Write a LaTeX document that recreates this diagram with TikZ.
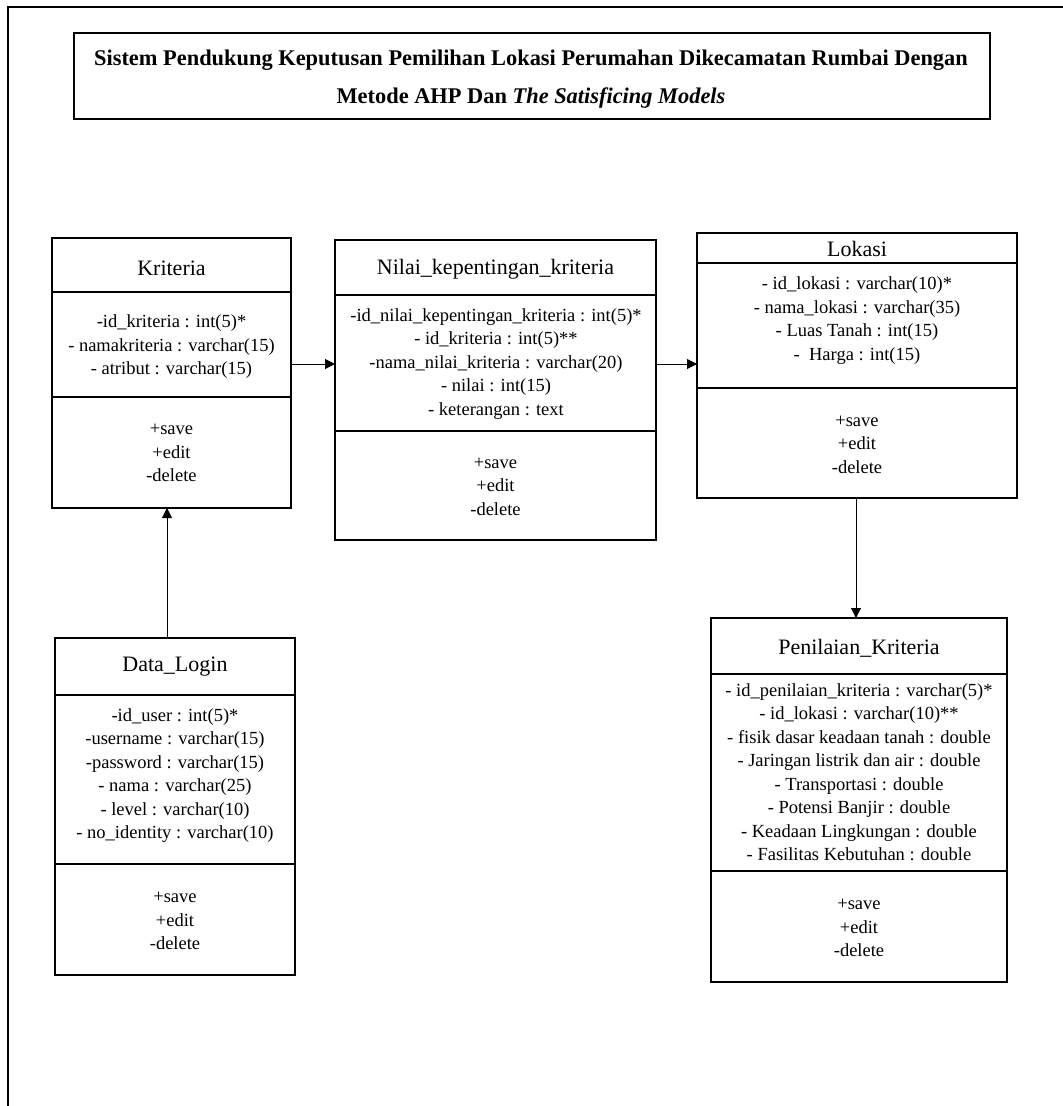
\documentclass[tikz,border=0pt]{standalone}
\usepackage{fontspec}
\setmainfont{Liberation Serif}
\usetikzlibrary{arrows.meta}
\tikzset{
  classbox/.style={draw, line width=1.1pt, anchor=north west, inner sep=0pt, outer sep=0pt},
  divider/.style={line width=1.1pt},
  classtitle/.style={font=\fontsize{22}{26}\selectfont, inner sep=0pt},
  members/.style={font=\fontsize{18.5}{23.5}\selectfont, align=center, inner sep=0pt},
  assoc/.style={line width=1pt, -{Triangle[length=10pt,width=10pt]}},
  frame/.style={line width=1.5pt},
}
\begin{document}
\begin{tikzpicture}[x=1pt, y=-1pt]
\useasboundingbox (0,0) rectangle (1063,1106);

% page frame (top and left edges)
\draw[frame] (1063,7) -- (8,7) -- (8,1106);

% heading
\node[draw, line width=1.1pt, minimum width=916pt, minimum height=86pt, inner sep=0pt] (title) at (532,76) {};
\node[align=center, inner sep=0pt, font=\bfseries\fontsize{22.4}{38}\selectfont] (title-text) at (531,79)
  {Sistem Pendukung Keputusan Pemilihan Lokasi Perumahan Dikecamatan Rumbai Dengan\\
   Metode AHP Dan \textit{The Satisficing Models}};

% class Kriteria
\node[classbox, minimum width=239pt, minimum height=270pt] (kri) at (52,238) {};
\draw[divider] (kri.west |- 0,292) -- (kri.east |- 0,292);
\draw[divider] (kri.west |- 0,397) -- (kri.east |- 0,397);
\node[classtitle] (kri-t) at (171.5,268) {Kriteria};
\node[members] (kri-a) at (171.5,347) {-id\_kriteria : int(5)*\\- namakriteria : varchar(15)\\- atribut : varchar(15)};
\node[members] (kri-m) at (171.5,453) {+save\\+edit\\-delete};

% class Nilai_kepentingan_kriteria
\node[classbox, minimum width=321pt, minimum height=300pt] (nil) at (335,240) {};
\draw[divider] (nil.west |- 0,295) -- (nil.east |- 0,295);
\draw[divider] (nil.west |- 0,431) -- (nil.east |- 0,431);
\node[classtitle] (nil-t) at (495.5,269) {Nilai\_kepentingan\_kriteria};
\node[members] (nil-a) at (496,364) {-id\_nilai\_kepentingan\_kriteria : int(5)*\\- id\_kriteria : int(5)**\\-nama\_nilai\_kriteria : varchar(20)\\- nilai : int(15)\\- keterangan : text};
\node[members] (nil-m) at (495.5,486.5) {+save\\+edit\\-delete};

% class Lokasi
\node[classbox, minimum width=320pt, minimum height=265pt] (lok) at (697,233) {};
\draw[divider] (lok.west |- 0,263) -- (lok.east |- 0,263);
\draw[divider] (lok.west |- 0,388) -- (lok.east |- 0,388);
\node[classtitle] (lok-t) at (857,249) {Lokasi};
\node[members] (lok-a) at (857,320.5) {- id\_lokasi : varchar(10)*\\- nama\_lokasi : varchar(35)\\- Luas Tanah : int(15)\\-\ \ Harga : int(15)};
\node[members] (lok-m) at (857,444.5) {+save\\+edit\\-delete};

% class Data_Login
\node[classbox, minimum width=240pt, minimum height=337pt] (dl) at (55,638) {};
\draw[divider] (dl.west |- 0,695) -- (dl.east |- 0,695);
\draw[divider] (dl.west |- 0,864) -- (dl.east |- 0,864);
\node[classtitle] (dl-t) at (175,667) {Data\_Login};
\node[members] (dl-a) at (175,775.5) {-id\_user : int(5)*\\-username : varchar(15)\\-password : varchar(15)\\- nama : varchar(25)\\- level : varchar(10)\\- no\_identity : varchar(10)};
\node[members] (dl-m) at (175,921) {+save\\+edit\\-delete};

% class Penilaian_Kriteria
\node[classbox, minimum width=296pt, minimum height=364pt] (pen) at (711,618) {};
\draw[divider] (pen.west |- 0,674) -- (pen.east |- 0,674);
\draw[divider] (pen.west |- 0,871) -- (pen.east |- 0,871);
\node[classtitle] (pen-t) at (859,648) {Penilaian\_Kriteria};
\node[members] (pen-a) at (859,772) {- id\_penilaian\_kriteria : varchar(5)*\\- id\_lokasi : varchar(10)**\\- fisik dasar keadaan tanah : double\\- Jaringan listrik dan air : double\\- Transportasi : double\\- Potensi Banjir : double\\- Keadaan Lingkungan : double\\- Fasilitas Kebutuhan : double};
\node[members] (pen-m) at (859,928) {+save\\+edit\\-delete};

% associations
\draw[assoc] (kri.east |- 0,364) -- (nil.west |- 0,364);
\draw[assoc] (nil.east |- 0,364) -- (lok.west |- 0,364);
\draw[assoc] (dl.north -| 167,0) -- (kri.south -| 167,0);
\draw[assoc] (lok.south -| 856,0) -- (pen.north -| 856,0);
\end{tikzpicture}
\end{document}
